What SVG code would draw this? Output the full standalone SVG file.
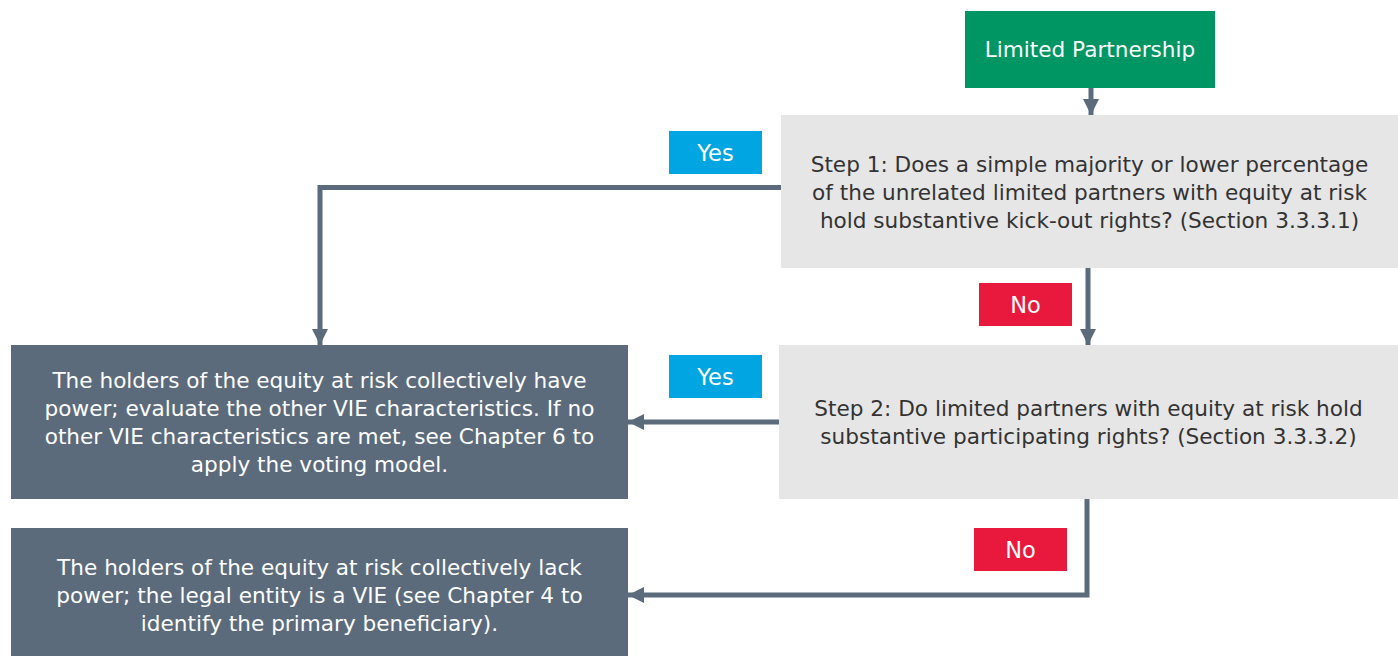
<svg xmlns="http://www.w3.org/2000/svg" width="1398" height="656" viewBox="0 0 1398 656">
<style>
.t{font-family:"DejaVu Sans",Verdana,sans-serif;font-size:21.6px;text-anchor:middle}
.lb{font-size:22.5px}
.dk{fill:#333333}
.wh{fill:#ffffff}
.conn{fill:none;stroke:#5b6b7c;stroke-width:5}
</style>
<defs>
<marker id="ah" viewBox="0 0 10 10" refX="10" refY="5" markerWidth="3.2" markerHeight="3.2" orient="auto" markerUnits="strokeWidth">
<path d="M0,0 L10,5 L0,10 Z" fill="#5b6b7c"/>
</marker>
</defs>
<rect width="1398" height="656" fill="#ffffff"/>
<g id="connectors">
<path class="conn" d="M1091,88 V115" marker-end="url(#ah)"/>
<path class="conn" d="M781,187.5 H320 V345" marker-end="url(#ah)"/>
<path class="conn" d="M1088,268 V345" marker-end="url(#ah)"/>
<path class="conn" d="M779,422 H628" marker-end="url(#ah)"/>
<path class="conn" d="M1087,499 V595 H628" marker-end="url(#ah)"/>
</g>
<g id="start">
<rect x="965" y="11" width="250" height="77" fill="#009664"/>
<text class="t wh" x="1090" y="57" font-size="24">Limited Partnership</text>
</g>
<g id="step1">
<rect x="781" y="115" width="617" height="153" fill="#e6e6e6"/>
<text class="t dk" x="1089.5" y="172">Step 1: Does a simple majority or lower percentage</text>
<text class="t dk" x="1089.5" y="200">of the unrelated limited partners with equity at risk</text>
<text class="t dk" x="1089.5" y="228">hold substantive kick-out rights? (Section 3.3.3.1)</text>
</g>
<g id="step2">
<rect x="779" y="345" width="619" height="154" fill="#e6e6e6"/>
<text class="t dk" x="1088.5" y="416">Step 2: Do limited partners with equity at risk hold</text>
<text class="t dk" x="1088.5" y="444">substantive participating rights? (Section 3.3.3.2)</text>
</g>
<g id="result1">
<rect x="11" y="345" width="617" height="154" fill="#5b6b7c"/>
<text class="t wh" x="319.5" y="388">The holders of the equity at risk collectively have</text>
<text class="t wh" x="319.5" y="416">power; evaluate the other VIE characteristics. If no</text>
<text class="t wh" x="319.5" y="444">other VIE characteristics are met, see Chapter 6 to</text>
<text class="t wh" x="319.5" y="472">apply the voting model.</text>
</g>
<g id="result2">
<rect x="11" y="528" width="617" height="128" fill="#5b6b7c"/>
<text class="t wh" x="319.5" y="575">The holders of the equity at risk collectively lack</text>
<text class="t wh" x="319.5" y="603">power; the legal entity is a VIE (see Chapter 4 to</text>
<text class="t wh" x="319.5" y="631">identify the primary beneficiary).</text>
</g>
<g id="yes1">
<rect x="669" y="131" width="93" height="43" fill="#00a5e1"/>
<text class="t lb wh" x="715.5" y="161">Yes</text>
</g>
<g id="no1">
<rect x="979" y="283" width="93" height="43" fill="#e8193c"/>
<text class="t lb wh" x="1025.5" y="313">No</text>
</g>
<g id="yes2">
<rect x="669" y="355" width="93" height="43" fill="#00a5e1"/>
<text class="t lb wh" x="715.5" y="385">Yes</text>
</g>
<g id="no2">
<rect x="974" y="528" width="93" height="43" fill="#e8193c"/>
<text class="t lb wh" x="1020.5" y="558">No</text>
</g>
</svg>
